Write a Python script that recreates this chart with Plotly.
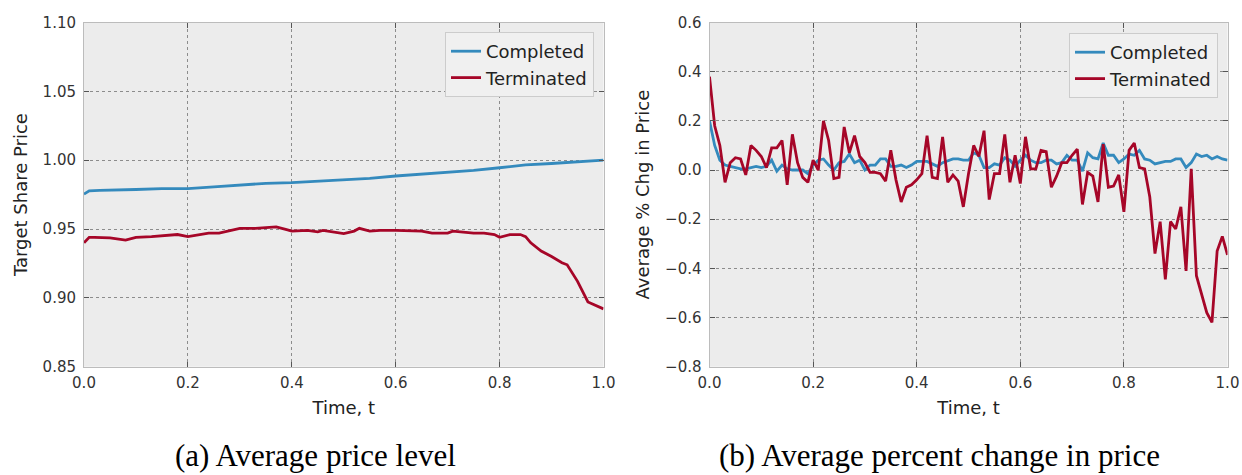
import numpy as np
import plotly.graph_objects as go

# ---------------- data ----------------
# (a) Average price level
t_level_completed = [0.0, 0.01, 0.03, 0.06, 0.10, 0.15, 0.20, 0.25, 0.30, 0.35, 0.40, 0.45,
                     0.50, 0.55, 0.60, 0.65, 0.70, 0.75, 0.80, 0.85, 0.90, 0.95, 1.00]
level_completed = [0.9753, 0.9777, 0.9780, 0.9781, 0.9787, 0.9794, 0.9794, 0.9806, 0.9820,
                   0.9832, 0.9837, 0.9846, 0.9860, 0.9868, 0.9885, 0.9897, 0.9911, 0.9926,
                   0.9945, 0.9966, 0.9976, 0.9986, 1.0000]

t_level_terminated = [0.0, 0.01, 0.02, 0.05, 0.08, 0.10, 0.13, 0.16, 0.18, 0.20, 0.22, 0.24,
                      0.26, 0.28, 0.30, 0.33, 0.36, 0.37, 0.39, 0.40, 0.43, 0.45, 0.46, 0.48,
                      0.50, 0.52, 0.53, 0.55, 0.57, 0.60, 0.63, 0.65, 0.67, 0.70, 0.71, 0.73,
                      0.75, 0.77, 0.79, 0.80, 0.82, 0.84, 0.85, 0.86, 0.88, 0.90, 0.92, 0.93,
                      0.95, 0.97, 0.99, 1.00]
level_terminated = [0.9400, 0.9440, 0.9440, 0.9435, 0.9420, 0.9440, 0.9445, 0.9457, 0.9460,
                    0.9445, 0.9457, 0.9470, 0.9470, 0.9490, 0.9505, 0.9505, 0.9510, 0.9515,
                    0.9495, 0.9485, 0.9490, 0.9480, 0.9490, 0.9480, 0.9467, 0.9485, 0.9505,
                    0.9485, 0.9490, 0.9490, 0.9485, 0.9485, 0.9470, 0.9470, 0.9485, 0.9475,
                    0.9470, 0.9470, 0.9460, 0.9440, 0.9460, 0.9460, 0.9445, 0.9400, 0.9340,
                    0.9300, 0.9255, 0.9240, 0.9120, 0.8970, 0.8935, 0.8920]

# (b) Average percent change in price, t = 0.00 ... 1.00 step 0.01
pct_completed = [0.20, 0.10, 0.04, 0.02, 0.015, 0.01, 0.005, 0.005, 0.01, 0.015,
                 0.01, 0.015, 0.04, -0.005, 0.02, 0.005, 0.0, 0.0, 0.0, -0.015,
                 0.02, 0.04, 0.045, 0.02, 0.0, 0.03, 0.035, 0.065, 0.03, 0.04,
                 0.0, 0.02, 0.02, 0.045, 0.045, 0.015, 0.015, 0.02, 0.01, 0.02,
                 0.035, 0.035, 0.035, 0.025, 0.015, 0.03, 0.036, 0.045, 0.045, 0.04,
                 0.04, 0.07, 0.06, 0.01, 0.01, 0.025, 0.02, 0.05, 0.04, 0.015,
                 0.04, 0.06, 0.04, 0.03, 0.03, 0.04, 0.04, 0.025, 0.03, 0.06,
                 0.04, 0.04, -0.005, 0.07, 0.05, 0.045, 0.11, 0.06, 0.06, 0.03,
                 0.045, 0.065, 0.06, 0.08, 0.045, 0.04, 0.025, 0.03, 0.035, 0.035,
                 0.045, 0.045, 0.01, 0.03, 0.065, 0.055, 0.06, 0.045, 0.055, 0.045,
                 0.04]
pct_terminated = [0.38, 0.18, 0.10, -0.05, 0.03, 0.05, 0.045, -0.02, 0.10, 0.08,
                  0.055, 0.01, 0.09, 0.09, 0.12, -0.06, 0.145, 0.03, -0.03, -0.05,
                  0.04, 0.0, 0.20, 0.12, -0.035, -0.03, 0.175, 0.07, 0.14, 0.055,
                  0.03, -0.01, -0.01, -0.015, -0.045, 0.08, -0.04, -0.13, -0.07, -0.06,
                  -0.04, -0.015, 0.14, -0.03, -0.035, 0.135, -0.05, -0.02, -0.045, -0.15,
                  -0.015, 0.10, 0.055, 0.16, -0.12, -0.015, -0.015, 0.145, -0.05, 0.06,
                  -0.055, 0.135, 0.005, 0.005, 0.08, 0.075, -0.07, -0.025, 0.03, 0.03,
                  0.06, 0.085, -0.14, -0.01, -0.025, -0.13, 0.105, -0.07, -0.065, -0.02,
                  -0.17, 0.08, 0.11, 0.01, 0.005, -0.11, -0.34, -0.21, -0.445, -0.21,
                  -0.24, -0.15, -0.41, 0.005, -0.43, -0.50, -0.58, -0.62, -0.33, -0.27,
                  -0.345]
t_pct = np.linspace(0.0, 1.0, len(pct_terminated))

x_ticks = [0.0, 0.2, 0.4, 0.6, 0.8, 1.0]
captions = ["(a) Average price level", "(b) Average percent change in price"]
series_names = ["Completed", "Terminated"]

# ---------------- style ----------------
BLUE = "#348ABD"
RED = "#A60628"
W, H = 1242, 475
SANS = "DejaVu Sans"
LW = 2.8

fig = go.Figure()
fig.add_trace(go.Scatter(x=t_level_completed, y=level_completed, mode="lines", name=series_names[0],
                         line=dict(color=BLUE, width=LW), xaxis="x", yaxis="y", legend="legend"))
fig.add_trace(go.Scatter(x=t_level_terminated, y=level_terminated, mode="lines", name=series_names[1],
                         line=dict(color=RED, width=LW), xaxis="x", yaxis="y", legend="legend"))
fig.add_trace(go.Scatter(x=t_pct, y=pct_completed, mode="lines", name=series_names[0],
                         line=dict(color=BLUE, width=LW), xaxis="x2", yaxis="y2", legend="legend2"))
fig.add_trace(go.Scatter(x=t_pct, y=pct_terminated, mode="lines", name=series_names[1],
                         line=dict(color=RED, width=LW), xaxis="x2", yaxis="y2", legend="legend2"))

def ax(**kw):
    base = dict(showline=True, linecolor="#bcbcbc", linewidth=1, mirror="allticks",
                ticks="inside", ticklen=5, tickwidth=1, tickcolor="#555555",
                showgrid=True, gridcolor="#8c8c8c", gridwidth=1, griddash="3px,3px",
                zeroline=False, automargin=False,
                tickfont=dict(family=SANS, size=15, color="#333333"),
                title_font=dict(family=SANS, size=18, color="#222222"))
    base.update(kw)
    return base

y_top = 1 - 22.5 / H
y_bot = 1 - 366.7 / H

fig.update_layout(
    width=W, height=H,
    margin=dict(l=0, r=0, t=0, b=0, autoexpand=False),
    paper_bgcolor="white", plot_bgcolor="#ececec",
    xaxis=ax(domain=[84 / W, 603.5 / W], range=[0, 1], tickvals=x_ticks, tickformat=".1f",
             anchor="y", ticklabelstandoff=2, title=dict(text="Time, t", standoff=10)),
    yaxis=ax(domain=[y_bot, y_top], range=[0.85, 1.10], dtick=0.05, tickformat=".2f",
             anchor="x", ticklabelstandoff=4, title=dict(text="Target Share Price", standoff=10)),
    xaxis2=ax(domain=[709.5 / W, 1227.5 / W], range=[0, 1], tickvals=x_ticks, tickformat=".1f",
              anchor="y2", ticklabelstandoff=2, title=dict(text="Time, t", standoff=10)),
    yaxis2=ax(domain=[y_bot, y_top], range=[-0.8, 0.6], dtick=0.2, tickformat=".1f",
              anchor="x2", ticklabelstandoff=4, title=dict(text="Average % Chg in Price", standoff=10)),
    legend=dict(x=594 / W, y=1 - 32 / H, xanchor="right", yanchor="top",
                bgcolor="#f0f0f0", bordercolor="#cccccc", borderwidth=1,
                font=dict(family=SANS, size=18, color="#222222")),
    legend2=dict(x=1218 / W, y=1 - 33 / H, xanchor="right", yanchor="top",
                 bgcolor="#f0f0f0", bordercolor="#cccccc", borderwidth=1,
                 font=dict(family=SANS, size=18, color="#222222")),
    annotations=[
        dict(text=captions[0], x=315 / W, y=0, xref="paper", yref="paper",
             showarrow=False, xanchor="center", yanchor="bottom",
             font=dict(family="Liberation Serif", size=31, color="black")),
        dict(text=captions[1], x=939 / W, y=0, xref="paper", yref="paper",
             showarrow=False, xanchor="center", yanchor="bottom",
             font=dict(family="Liberation Serif", size=31, color="black")),
    ],
)

fig.write_html(
    "out.html",
    config={"displayModeBar": False},
    post_script="document.body.style.margin='0';document.body.style.overflow='hidden';",
)
